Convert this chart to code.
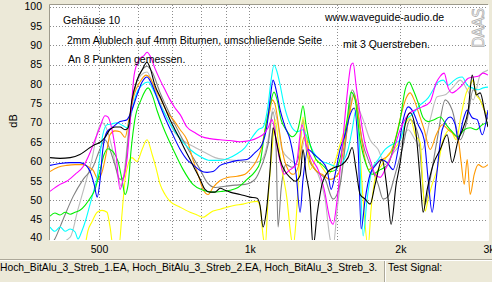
<!DOCTYPE html>
<html>
<head>
<meta charset="utf-8">
<script src="https://cdn.jsdelivr.net/npm/d3@7"></script>
<style>
  body { margin: 0; background: #ece9d8; }
  svg { display: block; font-family: 'Liberation Sans', Arial, sans-serif; }
</style>
</head>
<body>
<div id="vis"></div>
<script>
var width = 492;
var height = 282;
var plot = {left: 50, right: 488, top: 5, bottom: 240};

var yTicks = [40, 45, 50, 55, 60, 65, 70, 75, 80, 85, 90, 95, 100];
var xGrid = [500, 600, 700, 800, 900, 1000, 1500, 2000];
var xTicks = [500, 1000, 2000, 3000];
var xTickLabels = ['500', '1k', '2k', '3k'];

var notes = [
  'Gehäuse 10',
  '2mm Alublech auf 4mm Bitumen, umschließende Seite',
  'An 8 Punkten gemessen.',
  'www.waveguide-audio.de',
  'mit 3 Querstreben.',
];

// only the first three file names fit in the status bar
var legendNames = [
  'Hoch_BitAlu_3_Streb_1.EA',
  'Hoch_BitAlu_3_Streb_2.EA',
  'Hoch_BitAlu_3_Streb_3.EA',
];

// [Hz, dB]
var silverCurve = [[400,38],[439,40.5],[455,47.7],[472,54.9],[485,60.5],[497,67.4],[508,70.0],[518,68.7],[532,63.6],[547,55.9],[555,53.6],[565,59.2],[578,72.1],[591,79.0],[608,82.3],[625,83.1],[643,79.7],[664,75.1],[685,71.3],[711,67.4],[744,65.1],[780,63.6],[816,62.3],[855,61.0],[895,60.5],[937,60.3],[981,60.0],[1027,59.7],[1061,60.5],[1091,65.6],[1116,73.8],[1137,70.8],[1163,63.1],[1207,60.5],[1252,59.2],[1293,65.6],[1323,60.5],[1373,56.7],[1418,50.3],[1451,40.0],[1471,38],[1499,47.7],[1541,60.5],[1584,72.1],[1613,77.2],[1643,74.6],[1689,70.8],[1744,65.6],[1810,63.1],[1869,59.2],[1930,61.8],[2003,64.4],[2078,68.2],[2146,65.6],[2216,63.1],[2299,70.8],[2374,76.7],[2464,77.2],[2556,79.2],[2640,81.0],[2726,78.5],[2803,75.9],[2894,82.3],[3000,83.6]];

var grayCurve = [[400,38],[409,40.0],[425,45.1],[445,51.0],[466,55.4],[488,58.7],[503,63.1],[515,65.6],[527,63.1],[539,59.2],[552,55.4],[562,55.9],[573,65.6],[583,74.6],[597,81.0],[611,83.6],[625,84.6],[640,83.1],[664,77.7],[695,72.1],[728,66.9],[762,62.3],[798,57.9],[824,54.6],[855,53.3],[895,53.6],[937,53.9],[981,54.1],[1027,55.4],[1061,59.2],[1091,64.4],[1116,72.8],[1132,63.1],[1142,43.1],[1158,52.8],[1185,59.2],[1218,58.5],[1252,60.5],[1281,70.8],[1305,61.8],[1354,57.9],[1418,55.4],[1471,50.3],[1519,54.1],[1569,68.2],[1606,78.5],[1635,75.9],[1681,65.6],[1744,59.2],[1810,54.1],[1852,50.3],[1895,51.0],[1957,56.7],[2021,63.1],[2097,70.8],[2176,66.9],[2247,49.0],[2299,55.4],[2374,65.6],[2464,75.9],[2544,73.3],[2640,65.6],[2726,70.8],[2803,78.5],[2894,75.9],[3000,70.8]];

var yellowCurve = [[470,38],[476,42.0],[485,44.4],[497,46.9],[508,47.4],[520,46.9],[527,43.3],[535,38],[549,38],[557,46.4],[565,55.4],[573,59.2],[583,61.0],[597,60.0],[611,63.1],[625,65.6],[640,61.8],[651,58.5],[664,54.1],[679,51.5],[695,49.7],[728,48.2],[762,46.9],[787,46.2],[809,45.6],[828,46.4],[847,47.2],[875,47.7],[903,48.2],[937,48.7],[972,49.0],[1004,49.5],[1037,49.7],[1051,48.5],[1066,40.8],[1076,38],[1091,50.3],[1111,63.1],[1127,70.8],[1142,65.6],[1163,57.9],[1190,50.3],[1207,42.6],[1224,38],[1241,45.1],[1264,63.1],[1281,71.5],[1299,65.6],[1323,57.9],[1360,60.5],[1398,58.5],[1438,56.7],[1478,59.2],[1519,64.4],[1562,69.5],[1598,73.3],[1628,73.8],[1658,65.6],[1689,50.3],[1728,38],[1752,47.7],[1793,56.7],[1843,59.2],[1895,61.8],[1948,63.1],[2003,65.6],[2049,69.5],[2097,71.3],[2146,66.9],[2196,64.9],[2226,52.8],[2247,47.2],[2278,50.3],[2320,54.1],[2374,57.9],[2441,65.6],[2521,68.2],[2592,65.6],[2652,72.1],[2714,77.7],[2764,79.7],[2803,81.0],[2842,77.2],[2894,75.9],[2948,73.3],[3000,72.1]];

var orangeCurve = [[400,57.4],[415,58.5],[432,59.0],[449,59.2],[466,59.2],[476,58.7],[488,57.7],[499,55.4],[508,57.2],[520,63.1],[527,66.9],[539,67.9],[552,67.7],[565,66.2],[575,70.8],[589,77.2],[605,80.5],[622,82.3],[634,81.5],[648,79.0],[664,76.4],[685,72.8],[705,70.8],[728,68.2],[751,65.6],[772,60.5],[790,56.7],[809,52.8],[828,51.5],[847,53.3],[875,55.1],[907,55.9],[946,56.2],[981,56.7],[1004,57.9],[1032,60.0],[1056,63.1],[1081,69.5],[1101,73.3],[1111,75.9],[1127,74.6],[1148,68.2],[1169,61.8],[1196,57.9],[1224,56.7],[1252,58.5],[1281,65.6],[1299,66.9],[1323,60.5],[1354,57.9],[1398,56.7],[1451,55.4],[1505,56.7],[1555,65.6],[1591,73.3],[1621,77.2],[1651,72.1],[1689,63.1],[1736,57.9],[1785,59.2],[1843,60.5],[1904,61.8],[1957,65.6],[2012,72.1],[2059,76.4],[2097,77.7],[2136,75.9],[2186,72.1],[2237,68.2],[2299,63.1],[2364,66.9],[2430,69.5],[2498,68.2],[2568,66.9],[2616,65.6],[2652,59.7],[2689,54.1],[2726,60.5],[2764,51.5],[2816,56.7],[2868,59.2],[2935,58.5],[3000,59.2]];

var cyanCurve = [[400,43.1],[409,42.0],[419,43.1],[429,42.0],[439,42.6],[449,41.8],[455,40.0],[463,42.0],[472,45.1],[481,49.0],[490,52.8],[497,55.9],[503,61.3],[510,66.9],[520,69.5],[532,69.7],[544,70.0],[560,69.2],[570,68.7],[581,72.1],[594,77.2],[611,79.7],[628,80.5],[643,78.5],[664,74.6],[685,71.3],[711,67.7],[738,64.9],[762,63.1],[798,61.3],[835,60.3],[875,60.3],[907,60.8],[946,62.0],[981,63.6],[1013,66.2],[1042,68.2],[1066,68.9],[1091,74.6],[1106,81.0],[1121,84.9],[1137,83.1],[1153,79.7],[1174,74.6],[1207,69.7],[1247,67.7],[1281,68.2],[1311,65.6],[1342,62.6],[1386,60.3],[1438,59.5],[1499,58.7],[1541,60.0],[1576,63.1],[1606,68.2],[1635,73.3],[1658,65.6],[1689,40.8],[1720,50.3],[1760,57.9],[1810,60.5],[1869,63.1],[1930,64.4],[2003,65.6],[2059,70.8],[2116,72.1],[2196,74.6],[2278,76.4],[2331,78.5],[2386,80.5],[2441,81.0],[2498,79.7],[2544,80.5],[2603,81.5],[2664,81.8],[2726,79.7],[2790,79.0],[2868,78.5],[2935,79.0],[3000,79.2]];

var greenCurve = [[400,45.9],[409,46.7],[419,46.2],[429,46.9],[439,46.4],[449,46.9],[459,47.4],[470,48.7],[481,50.5],[492,52.8],[503,57.4],[513,61.8],[522,63.3],[534,62.6],[547,60.0],[557,55.4],[565,51.5],[573,54.1],[581,63.1],[591,70.8],[608,75.9],[628,79.0],[640,77.2],[654,73.3],[673,68.9],[705,63.1],[738,57.9],[772,54.1],[809,52.6],[847,52.1],[883,52.3],[916,52.6],[950,53.3],[990,55.4],[1027,57.4],[1051,59.7],[1076,68.2],[1101,74.6],[1121,77.9],[1137,75.9],[1158,70.8],[1185,68.2],[1218,66.4],[1247,67.7],[1264,70.8],[1281,74.4],[1299,69.5],[1323,64.4],[1360,60.5],[1398,59.2],[1451,57.4],[1492,57.9],[1533,63.1],[1569,70.8],[1598,77.9],[1628,75.9],[1666,65.6],[1713,59.2],[1760,56.7],[1827,57.9],[1895,59.2],[1948,64.4],[2003,70.8],[2049,78.5],[2087,80.5],[2126,78.5],[2176,75.1],[2226,71.3],[2278,70.3],[2342,70.8],[2408,71.5],[2475,69.5],[2544,67.7],[2616,66.4],[2689,68.2],[2764,68.7],[2842,68.2],[2921,69.5],[3000,70.0]];

var blueCurve = [[400,59.0],[419,59.5],[439,59.7],[459,59.7],[472,59.0],[481,57.4],[490,54.1],[497,50.8],[503,54.6],[510,63.1],[520,67.7],[534,68.9],[552,70.3],[570,70.8],[583,73.3],[597,77.2],[611,80.5],[625,81.8],[640,79.7],[657,75.9],[679,71.3],[701,67.4],[728,63.1],[751,60.5],[772,59.2],[798,57.7],[824,57.2],[847,57.4],[875,59.0],[907,59.7],[950,60.3],[990,60.5],[1027,62.3],[1061,64.4],[1086,69.5],[1101,75.9],[1116,81.0],[1132,78.5],[1153,73.3],[1180,68.9],[1207,65.6],[1241,56.7],[1264,46.9],[1281,55.4],[1311,63.1],[1348,61.8],[1386,60.5],[1431,57.9],[1458,52.8],[1485,56.7],[1519,63.1],[1555,66.9],[1591,72.1],[1621,73.8],[1651,63.1],[1674,42.6],[1705,50.3],[1744,56.7],[1793,59.2],[1835,60.5],[1886,59.7],[1939,57.9],[1984,63.1],[2031,70.8],[2078,74.1],[2126,72.8],[2176,69.5],[2237,65.6],[2278,55.4],[2320,46.9],[2364,55.4],[2430,68.2],[2521,71.5],[2580,69.5],[2616,65.6],[2677,70.8],[2726,73.3],[2790,71.3],[2855,70.8],[2921,66.9],[3000,73.3]];

var magentaCurve = [[400,52.3],[419,54.1],[432,54.9],[449,56.7],[466,58.7],[481,62.3],[492,65.6],[503,68.7],[515,71.8],[522,71.5],[532,68.2],[542,61.8],[552,52.8],[560,55.4],[570,60.5],[581,73.3],[589,82.3],[602,86.2],[617,87.4],[625,88.2],[637,86.7],[648,84.1],[664,81.0],[679,78.5],[695,75.9],[711,73.8],[728,72.1],[751,68.9],[780,67.4],[805,66.4],[835,65.9],[875,65.6],[916,65.4],[959,65.1],[1004,65.4],[1042,66.2],[1071,67.2],[1091,68.7],[1111,70.8],[1132,65.6],[1153,60.0],[1174,56.7],[1207,57.9],[1241,59.2],[1275,69.5],[1299,64.4],[1336,60.5],[1373,57.9],[1412,52.8],[1451,45.1],[1471,43.8],[1499,50.3],[1533,63.1],[1569,77.2],[1598,84.9],[1613,85.4],[1635,79.7],[1666,72.1],[1705,64.4],[1744,60.5],[1785,56.7],[1827,55.9],[1869,57.9],[1930,61.8],[2003,68.2],[2078,72.1],[2146,73.3],[2216,74.1],[2299,75.4],[2364,80.3],[2408,82.0],[2452,82.8],[2498,79.0],[2544,77.7],[2603,78.5],[2664,79.7],[2739,81.5],[2803,81.8],[2868,82.0],[2935,82.8],[3000,82.3]];

var blackCurve = [[400,61.0],[419,60.8],[439,61.0],[459,61.8],[481,63.6],[492,64.4],[503,64.9],[515,66.2],[527,68.2],[539,68.9],[552,68.9],[565,68.2],[573,68.7],[583,75.9],[597,81.0],[611,83.6],[625,85.6],[634,84.1],[648,79.7],[664,76.7],[679,73.8],[695,70.8],[711,68.2],[728,65.6],[744,63.1],[762,60.5],[780,57.9],[798,55.4],[816,52.8],[835,52.1],[855,52.1],[875,53.1],[895,52.6],[916,52.1],[959,51.5],[1004,50.8],[1037,50.5],[1051,48.7],[1066,43.1],[1081,46.7],[1101,57.9],[1116,68.7],[1132,65.6],[1153,60.5],[1180,57.4],[1207,55.9],[1235,54.9],[1264,56.4],[1281,63.1],[1299,56.7],[1323,50.3],[1342,38],[1367,46.4],[1398,54.1],[1438,57.4],[1485,58.5],[1533,59.2],[1576,61.0],[1606,63.6],[1635,57.9],[1666,51.5],[1705,50.3],[1744,49.0],[1785,54.1],[1843,60.5],[1886,52.8],[1921,43.8],[1966,54.1],[2003,59.7],[2049,69.5],[2097,72.6],[2146,68.9],[2196,55.4],[2226,46.9],[2268,52.8],[2331,59.2],[2408,63.1],[2486,66.9],[2544,59.7],[2616,65.6],[2677,68.7],[2739,73.3],[2790,82.3],[2842,77.2],[2894,77.7],[2962,72.1],[3000,68.9]];

var curves = [silverCurve, grayCurve, yellowCurve, orangeCurve, cyanCurve, greenCurve, blueCurve, magentaCurve, blackCurve];
var curveColors = ['#bcbcbc', '#808080', '#ffff00', '#ff9900', '#00ffff', '#00f000', '#0000ff', '#ff00ff', '#000000'];

function drawChart() {
  var svg = d3
    .select('#vis')
    .append('svg')
    .attr('width', width)
    .attr('height', height);

  svg
    .append('rect')
    .attr('width', width)
    .attr('height', height)
    .style('fill', '#ece9d8');

  var x = d3
    .scaleLog()
    .domain([400, 3000])
    .range([plot.left, plot.right]);
  var y = d3
    .scaleLinear()
    .domain([40, 100])
    .range([plot.bottom - 1, plot.top + 1.5]);

  svg
    .append('rect')
    .attr('x', plot.left)
    .attr('y', plot.top)
    .attr('width', plot.right - plot.left)
    .attr('height', plot.bottom - plot.top)
    .style('fill', '#ffffff');

  svg
    .append('clipPath')
    .attr('id', 'plot-clip')
    .append('rect')
    .attr('x', plot.left)
    .attr('y', plot.top)
    .attr('width', plot.right - plot.left)
    .attr('height', plot.bottom - plot.top);

  var grid = svg.append('g').attr('id', 'grid');
  grid
    .selectAll('line.h')
    .data(yTicks.slice(1))
    .enter()
    .append('line')
    .attr('class', 'h')
    .attr('x1', plot.left)
    .attr('x2', plot.right)
    .attr('y1', d => Math.round(y(d)) + 0.5)
    .attr('y2', d => Math.round(y(d)) + 0.5);
  grid
    .selectAll('line.v')
    .data(xGrid)
    .enter()
    .append('line')
    .attr('class', 'v')
    .attr('x1', d => Math.round(x(d)) + 0.5)
    .attr('x2', d => Math.round(x(d)) + 0.5)
    .attr('y1', plot.top)
    .attr('y2', plot.bottom);
  grid
    .selectAll('line')
    .style('stroke', '#8c8c8c')
    .style('stroke-width', 1)
    .style('stroke-dasharray', '1,2');

  // sunken frame round the plot
  svg
    .append('path')
    .attr('d', `M${plot.left - 0.5},${plot.bottom}V${plot.top - 0.5}H${plot.right}`)
    .style('fill', 'none')
    .style('stroke', '#9d9a8c');
  svg
    .append('path')
    .attr('d', `M${plot.left},${plot.bottom + 0.5}H${plot.right + 0.5}V${plot.top}`)
    .style('fill', 'none')
    .style('stroke', '#ffffff');

  var line = d3
    .line()
    .x(d => x(d[0]))
    .y(d => y(d[1]))
    .curve(d3.curveMonotoneX);

  svg
    .append('g')
    .attr('clip-path', 'url(#plot-clip)')
    .selectAll('path')
    .data(curves)
    .enter()
    .append('path')
    .attr('d', line)
    .style('fill', 'none')
    .style('stroke', (d, i) => curveColors[i])
    .style('stroke-width', 1.1)
    .style('stroke-linejoin', 'round');

  // axis labels
  svg
    .selectAll('text.ytick')
    .data(yTicks)
    .enter()
    .append('text')
    .attr('class', 'ytick')
    .attr('x', 42)
    .attr('y', d => (d == 40 ? y(d) - 2 : y(d)))
    .attr('dy', '0.35em')
    .attr('text-anchor', 'end')
    .style('font-size', '10.5px')
    .style('fill', '#000')
    .text(d => d);

  svg
    .selectAll('text.xtick')
    .data(xTicks)
    .enter()
    .append('text')
    .attr('class', 'xtick')
    .attr('x', d => x(d) + 1)
    .attr('y', 253)
    .attr('text-anchor', 'middle')
    .style('font-size', '10.5px')
    .style('fill', '#000')
    .text((d, i) => xTickLabels[i]);

  svg
    .append('text')
    .attr('transform', 'translate(17,121) rotate(-90)')
    .attr('text-anchor', 'middle')
    .style('font-size', '11px')
    .text('dB');

  // notes inside the plot
  var notePos = [[63, 24], [67, 44], [68, 63], [325, 21], [343, 48]];
  svg
    .selectAll('text.note')
    .data(notes)
    .enter()
    .append('text')
    .attr('class', 'note')
    .attr('x', (d, i) => notePos[i][0])
    .attr('y', (d, i) => notePos[i][1])
    .style('font-size', '10.5px')
    .style('fill', '#000')
    .text(d => d);

  svg
    .append('text')
    .attr('transform', 'translate(484,48) rotate(-90)')
    .attr('textLength', 40)
    .style('font-family', 'DejaVu Sans, sans-serif')
    .style('font-size', '15px')
    .style('fill', '#ffffff')
    .style('stroke', '#b0b0b0')
    .style('stroke-width', 0.8)
    .text('DAAS');

  // status bar
  svg
    .append('line')
    .attr('x1', 0)
    .attr('x2', width)
    .attr('y1', 259.5)
    .attr('y2', 259.5)
    .style('stroke', '#aca899');
  svg
    .append('line')
    .attr('x1', 0)
    .attr('x2', width)
    .attr('y1', 260.5)
    .attr('y2', 260.5)
    .style('stroke', '#ffffff');

  // the status bar cuts the file list where its first pane ends
  var legend = svg
    .append('text')
    .attr('x', 0)
    .attr('y', 271)
    .style('font-size', '10.3px')
    .text(legendNames.join(', '));
  var full = legendNames.join(', ');
  var n = full.length;
  while (n > 0 && legend.node().getComputedTextLength() > 384) {
    n--;
    legend.text(full.slice(0, n));
  }

  svg
    .append('line')
    .attr('x1', 384.5)
    .attr('x2', 384.5)
    .attr('y1', 261)
    .attr('y2', height)
    .style('stroke', '#aca899');
  svg
    .append('line')
    .attr('x1', 385.5)
    .attr('x2', 385.5)
    .attr('y1', 261)
    .attr('y2', height)
    .style('stroke', '#ffffff');

  svg
    .append('text')
    .attr('x', 388)
    .attr('y', 271)
    .style('font-size', '10.5px')
    .text('Test Signal:');
}

drawChart();
</script>
</body>
</html>
